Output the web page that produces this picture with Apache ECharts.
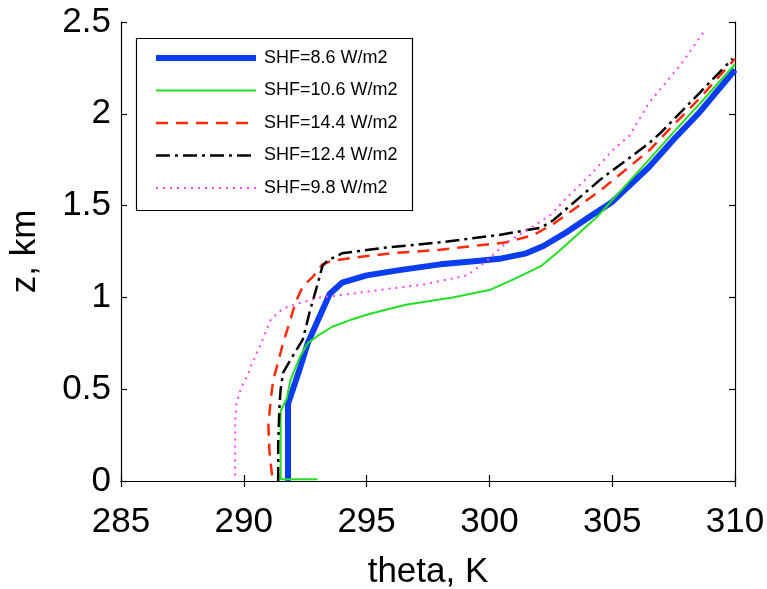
<!DOCTYPE html>
<html>
<head>
<meta charset="utf-8">
<script src="https://cdn.jsdelivr.net/npm/echarts@6/dist/echarts.min.js"></script>
<style>html,body{margin:0;padding:0;background:#fff}#c{width:767px;height:589px}</style>
</head>
<body>
<div id="c"></div>
<script>
// Data: [theta (K), z (km)]
const seriesNames = ['SHF=8.6 W/m2', 'SHF=10.6 W/m2', 'SHF=14.4 W/m2', 'SHF=12.4 W/m2', 'SHF=9.8 W/m2'];
const xTicks = [285, 290, 295, 300, 305, 310];
const yTicks = [0, 0.5, 1, 1.5, 2, 2.5];

const shf86 = [[291.8,0],[291.8,0.42],[292.0,0.5],[292.3,0.62],[292.6,0.75],[293.1,0.9],[293.5,1.02],[294.0,1.08],[295.0,1.12],[296.4,1.15],[298.0,1.18],[299.6,1.2],[300.4,1.21],[301.5,1.24],[302.2,1.28],[303.2,1.36],[304.2,1.45],[305.0,1.52],[306.5,1.71],[307.5,1.86],[308.5,2.0],[310,2.24]];
const shf106 = [[293.0,0.01],[291.5,0.01],[291.5,0.38],[291.75,0.45],[291.9,0.55],[292.3,0.68],[292.6,0.75],[293.0,0.79],[293.6,0.84],[294.4,0.88],[295.1,0.91],[296.6,0.96],[298.5,1.0],[300.0,1.04],[301.0,1.1],[302.1,1.17],[302.9,1.26],[304.4,1.44],[305.0,1.53],[306.5,1.75],[307.5,1.9],[308.6,2.06],[310,2.27]];
const shf144 = [[291.15,0.03],[291.05,0.15],[291.0,0.3],[291.1,0.45],[291.2,0.55],[291.4,0.65],[291.6,0.75],[291.9,0.88],[292.1,0.97],[292.4,1.06],[292.8,1.11],[293.2,1.18],[293.6,1.2],[294.7,1.22],[296.0,1.24],[298.0,1.26],[300.7,1.3],[301.8,1.34],[302.6,1.4],[304.5,1.58],[306.5,1.8],[307.5,1.94],[308.6,2.09],[310,2.3]];
const shf124 = [[291.4,0],[291.4,0.2],[291.45,0.4],[291.5,0.5],[291.6,0.59],[291.9,0.66],[292.4,0.77],[292.7,0.93],[293.0,1.07],[293.2,1.17],[293.4,1.2],[294.0,1.24],[295.7,1.27],[298.0,1.3],[300.4,1.34],[302.1,1.38],[302.6,1.42],[304.5,1.64],[306.5,1.84],[307.0,1.9],[308.6,2.12],[309.9,2.3]];
const shf98 = [[289.65,0.03],[289.65,0.2],[289.65,0.33],[289.7,0.42],[289.9,0.51],[290.2,0.59],[290.3,0.63],[290.7,0.75],[291.1,0.88],[291.6,0.94],[292.3,0.97],[293.1,1.0],[294.4,1.02],[295.5,1.04],[297.3,1.07],[299.1,1.12],[299.9,1.2],[300.7,1.3],[301.7,1.38],[302.5,1.45],[303.2,1.55],[304.2,1.68],[305.0,1.8],[305.7,1.88],[306.5,2.06],[307.8,2.27],[308.8,2.46]];

const seriesData = [shf86, shf106, shf144, shf124, shf98];
const styles = [
  {color:'#0a3cf0', width:6, type:'solid'},
  {color:'#22e022', width:2, type:'solid'},
  {color:'#ff2a0a', width:2.5, type:[12,8]},
  {color:'#000000', width:2.5, type:[14,5,3,5]},
  {color:'#ff40ff', width:2, type:[2,5]}
];

const FONT = 'Liberation Sans, Arial, Helvetica, sans-serif';
const chart = echarts.init(document.getElementById('c'), null, {renderer:'canvas'});

const axisLine = {show:true, lineStyle:{color:'#000', width:1.2}};
const tick = {show:true, inside:true, length:6, lineStyle:{color:'#000', width:1.2}};

const option = {
  animation:false,
  backgroundColor:'#fff',
  grid:{left:121, right:32, top:22, bottom:108, containLabel:false, outerBoundsMode:'none'},
  xAxis:[
    {type:'value', min:xTicks[0], max:xTicks[xTicks.length-1], interval:5, position:'bottom',
     name:'theta, K', nameLocation:'middle', nameGap:74,
     nameTextStyle:{fontFamily:FONT, fontSize:35, color:'#000'},
     axisLine:axisLine, axisTick:tick, splitLine:{show:false},
     axisLabel:{fontFamily:FONT, fontSize:35, color:'#000', margin:24}},
    {type:'value', min:xTicks[0], max:xTicks[xTicks.length-1], interval:5, position:'top',
     axisLine:axisLine, axisTick:tick, splitLine:{show:false}, axisLabel:{show:false}}
  ],
  yAxis:[
    {type:'value', min:yTicks[0], max:yTicks[yTicks.length-1], interval:0.5, position:'left',
     name:'z, km', nameLocation:'middle', nameGap:78, nameRotate:90,
     nameTextStyle:{fontFamily:FONT, fontSize:35, color:'#000'},
     axisLine:axisLine, axisTick:tick, splitLine:{show:false},
     axisLabel:{fontFamily:FONT, fontSize:35, color:'#000', margin:10}},
    {type:'value', min:yTicks[0], max:yTicks[yTicks.length-1], interval:0.5, position:'right',
     axisLine:axisLine, axisTick:tick, splitLine:{show:false}, axisLabel:{show:false}}
  ],
  legend:{
    orient:'vertical', left:153, top:48, padding:0,
    itemWidth:100, itemHeight:20, itemGap:12.5,
    itemStyle:{opacity:0},
    data:seriesNames.map((n,i)=>({name:n, lineStyle:{width:styles[i].width, type:styles[i].type, color:styles[i].color}})),
    textStyle:{fontFamily:FONT, fontSize:18, color:'#000', lineHeight:20, padding:[0,0,0,3]}
  },
  graphic:[{type:'rect', shape:{x:136.5, y:38.5, width:276, height:172}, style:{fill:'none', stroke:'#000', lineWidth:1.2}, z:1}],
  series: seriesData.map((d,i)=>({
    name:seriesNames[i], type:'line', data:d, xAxisIndex:0, yAxisIndex:0,
    showSymbol:false, symbol:'none', smooth:false,
    lineStyle:{color:styles[i].color, width:styles[i].width, type:styles[i].type},
    itemStyle:{color:styles[i].color},
    z: 2+i
  }))
};
chart.setOption(option);
</script>
</body>
</html>
